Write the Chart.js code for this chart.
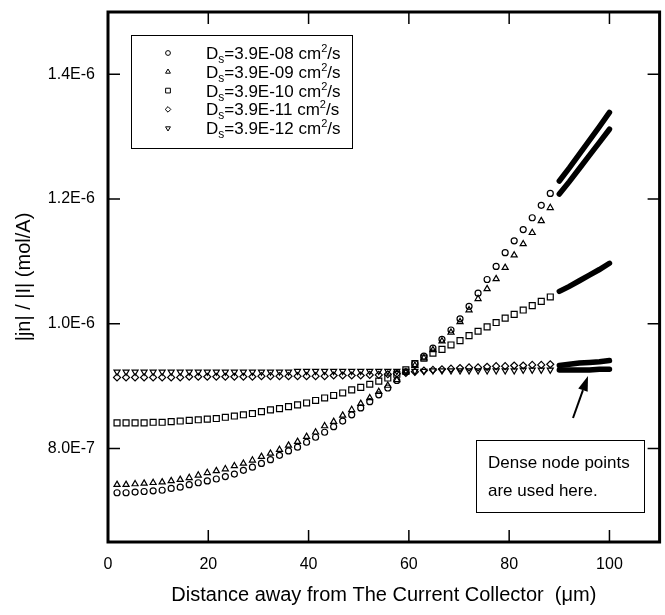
<!DOCTYPE html>
<html>
<head>
<meta charset="utf-8">
<script src="https://cdn.jsdelivr.net/npm/chart.js@4.4.0/dist/chart.umd.min.js"></script>
<style>
  body { margin: 0; background: #fff; }
  #wrap { width: 665px; height: 615px; }
</style>
</head>
<body>
<div id="wrap"><canvas id="fluxChart" width="665" height="615"></canvas></div>
<script>
// regular mesh nodes (um)
const xNodes = [1.8, 3.6, 5.4, 7.2, 9, 10.8, 12.6, 14.4, 16.2, 18, 19.8, 21.6, 23.4, 25.2, 27, 28.8,
  30.6, 32.4, 34.2, 36, 37.8, 39.6, 41.4, 43.2, 45, 46.8, 48.6, 50.4, 52.2, 54, 55.8, 57.6, 59.4,
  61.2, 63, 64.8, 66.6, 68.4, 70.2, 72, 73.8, 75.6, 77.4, 79.2, 81, 82.8, 84.6, 86.4, 88.2];
// dense node region, read at a few spots along the solid bands
const xDense = [90, 92, 94, 96, 98, 100];

// |jn|/|I| values, in units of 1E-7 mol/A
const ds08 = [7.29, 7.29, 7.30, 7.31, 7.32, 7.33, 7.36, 7.38, 7.42, 7.45, 7.48, 7.51, 7.55, 7.59, 7.65, 7.70,
  7.76, 7.82, 7.89, 7.96, 8.02, 8.10, 8.18, 8.26, 8.35, 8.44, 8.54, 8.65, 8.75, 8.86, 8.97, 9.09, 9.23,
  9.36, 9.48, 9.61, 9.75, 9.90, 10.08, 10.28, 10.49, 10.71, 10.92, 11.14, 11.33, 11.51, 11.70, 11.90, 12.09];
const ds09 = [7.42, 7.42, 7.43, 7.44, 7.45, 7.46, 7.48, 7.50, 7.53, 7.57, 7.61, 7.64, 7.67, 7.72, 7.76, 7.81,
  7.87, 7.92, 7.98, 8.05, 8.11, 8.19, 8.26, 8.36, 8.43, 8.53, 8.62, 8.72, 8.81, 8.91, 9.01, 9.10, 9.22,
  9.33, 9.45, 9.58, 9.72, 9.86, 10.03, 10.22, 10.40, 10.56, 10.72, 10.90, 11.10, 11.28, 11.46, 11.65, 11.86];
const ds10 = [8.41, 8.41, 8.41, 8.41, 8.42, 8.42, 8.43, 8.44, 8.45, 8.46, 8.47, 8.48, 8.50, 8.52, 8.54, 8.56,
  8.59, 8.62, 8.64, 8.67, 8.70, 8.73, 8.77, 8.81, 8.85, 8.89, 8.94, 8.98, 9.03, 9.08, 9.13, 9.19, 9.26,
  9.36, 9.45, 9.53, 9.59, 9.66, 9.73, 9.81, 9.88, 9.95, 10.02, 10.09, 10.15, 10.22, 10.29, 10.36, 10.43];
const ds11 = [9.14, 9.14, 9.14, 9.14, 9.14, 9.14, 9.14, 9.14, 9.15, 9.15, 9.15, 9.15, 9.15, 9.15, 9.15, 9.15,
  9.16, 9.16, 9.16, 9.16, 9.16, 9.16, 9.16, 9.16, 9.17, 9.17, 9.17, 9.17, 9.18, 9.18, 9.19, 9.20, 9.21,
  9.23, 9.25, 9.26, 9.27, 9.28, 9.29, 9.30, 9.30, 9.31, 9.32, 9.32, 9.33, 9.33, 9.34, 9.34, 9.35];
const ds12 = [9.23, 9.23, 9.23, 9.23, 9.23, 9.23, 9.23, 9.23, 9.23, 9.23, 9.23, 9.23, 9.23, 9.23, 9.23, 9.23,
  9.23, 9.23, 9.23, 9.23, 9.24, 9.24, 9.24, 9.24, 9.24, 9.24, 9.24, 9.24, 9.24, 9.24, 9.24, 9.24, 9.24,
  9.24, 9.24, 9.25, 9.25, 9.25, 9.25, 9.25, 9.25, 9.25, 9.25, 9.25, 9.25, 9.26, 9.26, 9.26, 9.26];

const dense08 = [12.29, 12.50, 12.72, 12.94, 13.16, 13.39];
const dense09 = [12.08, 12.28, 12.49, 12.70, 12.91, 13.12];
const dense10 = [10.52, 10.60, 10.69, 10.78, 10.87, 10.97];
const dense11 = [9.33, 9.35, 9.37, 9.38, 9.39, 9.41];
const dense12 = [9.26, 9.26, 9.26, 9.26, 9.27, 9.27];

const legendValues = ["3.9E-08", "3.9E-09", "3.9E-10", "3.9E-11", "3.9E-12"];
const xTickValues = [0, 20, 40, 60, 80, 100];
const yTickValues = [8, 10, 12, 14];
const yTickLabels = ["8.0E-7", "1.0E-6", "1.2E-6", "1.4E-6"];

const FONT = '"Liberation Sans", Arial, Helvetica, sans-serif';
Chart.defaults.font.family = FONT;
Chart.defaults.color = "#000";

// marker look for each series (same order as legendValues)
const markers = [
  { style: "circle", radius: 3, rotation: 0 },
  { style: "triangle", radius: 3.5, rotation: 0 },
  { style: "rect", radius: 4.2, rotation: 0 },
  { style: "rectRot", radius: 3.5, rotation: 0 },
  { style: "triangle", radius: 3.5, rotation: 180 },
];

function toPoints(xs, ys) {
  return xs.map((x, i) => ({ x: x, y: ys[i] }));
}

const sparseSeries = [ds08, ds09, ds10, ds11, ds12];
const denseSeries = [dense08, dense09, dense10, dense11, dense12];

const datasets = [];
sparseSeries.forEach((ys, i) => {
  datasets.push({
    label: "Ds=" + legendValues[i],
    data: toPoints(xNodes, ys),
    showLine: false,
    pointStyle: markers[i].style,
    pointRadius: markers[i].radius,
    pointRotation: markers[i].rotation,
    pointBorderWidth: 1.2,
    pointBorderColor: "#000",
    pointBackgroundColor: "rgba(0,0,0,0)",
    pointHoverRadius: markers[i].radius,
  });
});
denseSeries.forEach((ys, i) => {
  datasets.push({
    label: "dense " + legendValues[i],
    data: toPoints(xDense, ys),
    showLine: true,
    borderColor: "#000",
    borderWidth: 5.5,
    borderCapStyle: "round",
    pointRadius: 0,
    pointHoverRadius: 0,
  });
});

// frame with inward ticks, like the original plot
const framePlugin = {
  id: "frame",
  afterDatasetsDraw(chart) {
    const { ctx, chartArea: a, scales } = chart;
    ctx.save();
    ctx.strokeStyle = "#000";
    ctx.lineWidth = 1.5;
    ctx.beginPath();
    xTickValues.forEach((v) => {
      if (v === 0) return;
      const px = scales.x.getPixelForValue(v);
      ctx.moveTo(px, a.bottom); ctx.lineTo(px, a.bottom - 12);
      ctx.moveTo(px, a.top); ctx.lineTo(px, a.top + 12);
    });
    yTickValues.forEach((v) => {
      const py = scales.y.getPixelForValue(v);
      ctx.moveTo(a.left, py); ctx.lineTo(a.left + 12, py);
      ctx.moveTo(a.right, py); ctx.lineTo(a.right - 12, py);
    });
    ctx.stroke();
    ctx.lineWidth = 3;
    ctx.strokeRect(a.left, a.top, a.right - a.left, a.bottom - a.top);
    ctx.restore();
  },
};

function drawRich(ctx, parts, x, baseline) {
  parts.forEach((p) => {
    ctx.font = p.size + "px " + FONT;
    ctx.fillText(p.t, x, baseline + p.dy);
    x += ctx.measureText(p.t).width;
  });
}

// legend box with subscript / superscript text, plus the note with arrow
const notesPlugin = {
  id: "notes",
  afterDraw(chart) {
    const ctx = chart.ctx;
    ctx.save();
    ctx.strokeStyle = "#000";
    ctx.fillStyle = "#000";
    ctx.lineWidth = 1;
    ctx.strokeRect(131.5, 35.5, 221, 113);
    legendValues.forEach((val, i) => {
      const y = 53 + i * 18.8;
      ctx.save();
      ctx.fillStyle = "rgba(0,0,0,0)";
      ctx.lineWidth = 1;
      Chart.helpers.drawPoint(ctx, {
        pointStyle: markers[i].style,
        radius: markers[i].radius * 0.8,
        rotation: markers[i].rotation,
        borderWidth: 1,
      }, 168, y);
      ctx.restore();
      ctx.textBaseline = "alphabetic";
      drawRich(ctx, [
        { t: "D", size: 17, dy: 0 },
        { t: "s", size: 12, dy: 4 },
        { t: "=" + val + " cm", size: 17, dy: 0 },
        { t: "2", size: 11, dy: -7 },
        { t: "/s", size: 17, dy: 0 },
      ], 206, y + 6);
    });

    // note box
    ctx.lineWidth = 1;
    ctx.strokeRect(476.5, 440.5, 168, 72);
    ctx.font = "17px " + FONT;
    ctx.textBaseline = "alphabetic";
    ctx.fillText("Dense node points", 488, 468);
    ctx.fillText("are used here.", 488, 496);

    // arrow pointing at the dense bands
    const x0 = 573, y0 = 418, x1 = 588, y1 = 376;
    const ang = Math.atan2(y1 - y0, x1 - x0);
    const headLen = 15, headW = 5;
    const bx = x1 - headLen * Math.cos(ang), by = y1 - headLen * Math.sin(ang);
    ctx.lineWidth = 2;
    ctx.beginPath();
    ctx.moveTo(x0, y0); ctx.lineTo(bx, by);
    ctx.stroke();
    ctx.beginPath();
    ctx.moveTo(x1, y1);
    ctx.lineTo(bx + headW * Math.sin(ang), by - headW * Math.cos(ang));
    ctx.lineTo(bx - headW * Math.sin(ang), by + headW * Math.cos(ang));
    ctx.closePath();
    ctx.fill();
    ctx.restore();
  },
};

// keep the plot box exactly where the original has it
function fixPadding(scale) {
  scale.paddingTop = 0;
  scale.paddingBottom = 0;
  scale.paddingLeft = 0;
  scale.paddingRight = 0;
}

const ctx = document.getElementById("fluxChart").getContext("2d");
const chart = new Chart(ctx, {
  type: "scatter",
  data: { datasets: datasets },
  options: {
    responsive: false,
    animation: false,
    devicePixelRatio: 1,
    layout: { padding: { left: 0, right: 2, top: 12, bottom: 0 } },
    plugins: {
      legend: { display: false },
      tooltip: { enabled: false },
    },
    scales: {
      x: {
        type: "linear",
        min: 0,
        max: 110,
        grid: { display: false, drawTicks: false },
        border: { display: false },
        afterBuildTicks: (scale) => { scale.ticks = xTickValues.map((v) => ({ value: v })); },
        afterFit: (scale) => { scale.height = 73; fixPadding(scale); },
        ticks: { padding: 13, font: { size: 16 }, color: "#000" },
        title: {
          display: true,
          text: "Distance away from The Current Collector  (\u03bcm)",
          font: { size: 20 },
          padding: { top: 0, bottom: 8 },
          color: "#000",
        },
      },
      y: {
        type: "linear",
        min: 6.5,
        max: 15,
        grid: { display: false, drawTicks: false },
        border: { display: false },
        afterBuildTicks: (scale) => { scale.ticks = yTickValues.map((v) => ({ value: v })); },
        afterFit: (scale) => { scale.width = 108; fixPadding(scale); },
        ticks: {
          padding: 13,
          font: { size: 16 },
          color: "#000",
          callback: (v) => yTickLabels[yTickValues.indexOf(v)],
        },
        title: {
          display: true,
          text: "|jn| / |I| (mol/A)",
          font: { size: 20 },
          padding: { top: 12, bottom: 0 },
          color: "#000",
        },
      },
    },
  },
  plugins: [framePlugin, notesPlugin],
});
</script>
</body>
</html>
